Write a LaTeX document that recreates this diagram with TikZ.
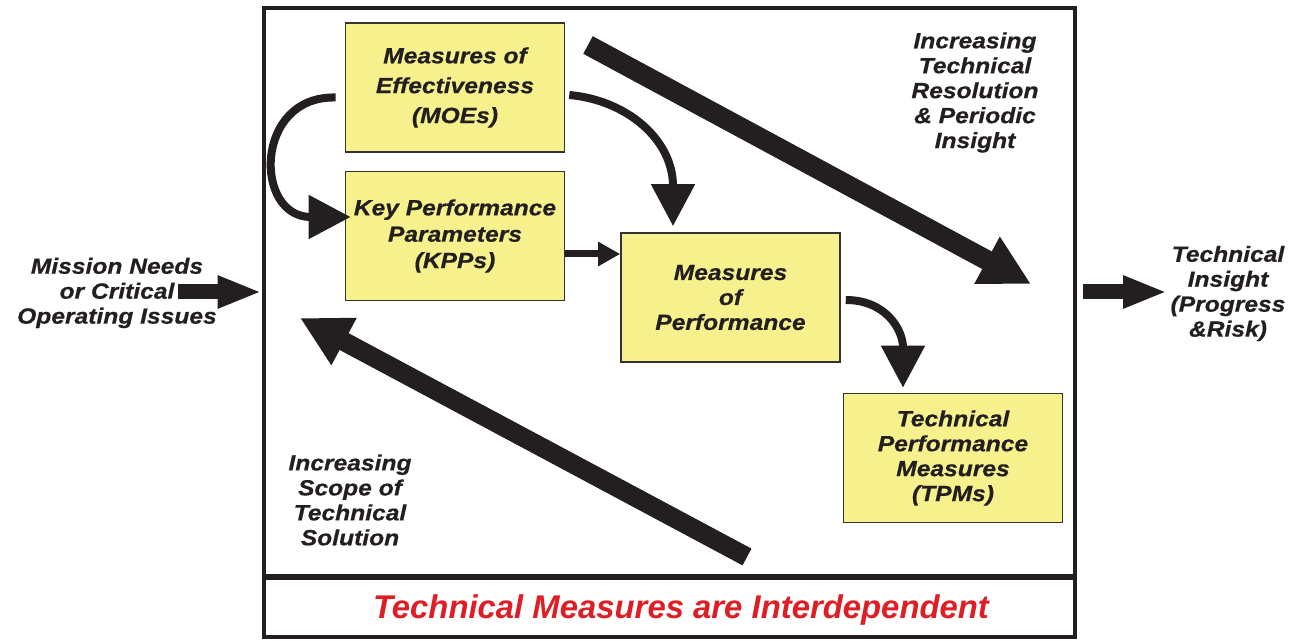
\documentclass[tikz,border=0pt]{standalone}
\usepackage{fontspec}
\newfontfamily\measfont{Liberation Sans}[FakeStretch=1.12, BoldItalicFeatures={FakeBold=0.6}]
\newfontfamily\notefont{Liberation Sans}
\usetikzlibrary{arrows.meta, positioning, calc}
\definecolor{boxyellow}{RGB}{246,241,141}
\definecolor{inkblack}{RGB}{35,31,32}
\definecolor{notered}{RGB}{222,30,36}
\tikzstyle{measure} = [rectangle, draw=black!80, line width=0.9pt, fill=boxyellow, minimum width=4.38cm, minimum height=2.58cm, inner sep=0pt, align=center, text=inkblack, font=\measfont\bfseries\itshape\fontsize{12.5}{14.2}\selectfont]
\tikzstyle{sidetext} = [align=center, inner sep=0pt, text=inkblack, font=\measfont\bfseries\itshape\fontsize{12.5}{14.2}\selectfont]
\tikzstyle{fat arrow} = [line width=0.3cm, draw=inkblack, -{Triangle[length=0.88cm, width=0.6cm]}]
\tikzstyle{big arrow} = [line width=0.4cm, draw=inkblack, -{Triangle[length=1cm, width=1cm]}]
\tikzstyle{bend arrow} = [line width=0.16cm, draw=inkblack, -{Triangle[length=0.84cm, width=0.84cm]}]
\tikzstyle{thin arrow} = [line width=0.14cm, draw=inkblack, -{Triangle[length=0.44cm, width=0.46cm]}]

\begin{document}
\begin{tikzpicture}[x=0.02cm, y=-0.02cm]
\useasboundingbox (0,0) rectangle (1298,641);

  \node[draw=inkblack, line width=0.08cm, minimum width=16.24cm, minimum height=12.58cm] (frame) at (669.5,322.5) {};
  \coordinate (split) at (669.5,577);
  \draw[inkblack, line width=0.14cm] (frame.west |- split) -- (frame.east |- split);

  \node[measure, font=\measfont\bfseries\itshape\fontsize{12.5}{17}\selectfont] (moe) at (455,87.5) {Measures of\\Effectiveness\\(MOEs)};
  \node[measure, font=\measfont\bfseries\itshape\fontsize{12.5}{15}\selectfont] (kpp) at (455,236) {Key Performance\\Parameters\\(KPPs)};
  \node[measure] (mop) at (730.5,297.5) {Measures\\of\\Performance};
  \node[measure] (tpm) at (953,458) {Technical\\Performance\\Measures\\(TPMs)};

  \node[sidetext] (needs) at (117,293) {Mission Needs\\or Critical\\Operating Issues};
  \node[sidetext] (resolution) at (975,92.5) {Increasing\\Technical\\Resolution\\\& Periodic\\Insight};
  \node[sidetext] (insight) at (1228,293.5) {Technical\\Insight\\(Progress\\\&Risk)};
  \node[sidetext] (scope) at (350,500) {Increasing\\Scope of\\Technical\\Solution};
  \node[font=\notefont\bfseries\itshape\fontsize{18.7}{22}\selectfont, text=notered] (interdep) at (681,610) {Technical Measures are Interdependent};

  \coordinate (needstail) at (178,292);
  \draw[fat arrow] (needstail) -- (needstail -| frame.west);
  \coordinate (insighttail) at (1083,292);
  \coordinate (insighthead) at (1167,292);
  \draw[fat arrow] (insighttail) -- (insighthead);

  \coordinate (restail) at (588,45);
  \coordinate (reshead) at (1031,284);
  \draw[big arrow] (restail) -- (reshead);
  \coordinate (scopetail) at (747,557);
  \coordinate (scopehead) at (300,318);
  \draw[big arrow, line width=0.38cm] (scopetail) -- (scopehead);

  \draw[bend arrow] ($(moe.west)+(-9,10)$) .. controls +(-82,-2) and +(-97,0) .. ($(kpp.west)+(6,-19)$);
  \draw[bend arrow] ($(moe.east)+(4,7.5)$) .. controls +(57,5) and +(0,-87) .. ($(mop.north)+(-57.5,-6)$);
  \draw[bend arrow] ($(mop.east)+(5,2.5)$) .. controls +(40,0) and +(0,-58) .. ($(tpm.north)+(-50,-5)$);
  \draw[thin arrow] ($(kpp.east)+(0,18)$) -- ($(mop.west)+(0,-43.5)$);

\end{tikzpicture}
\end{document}
